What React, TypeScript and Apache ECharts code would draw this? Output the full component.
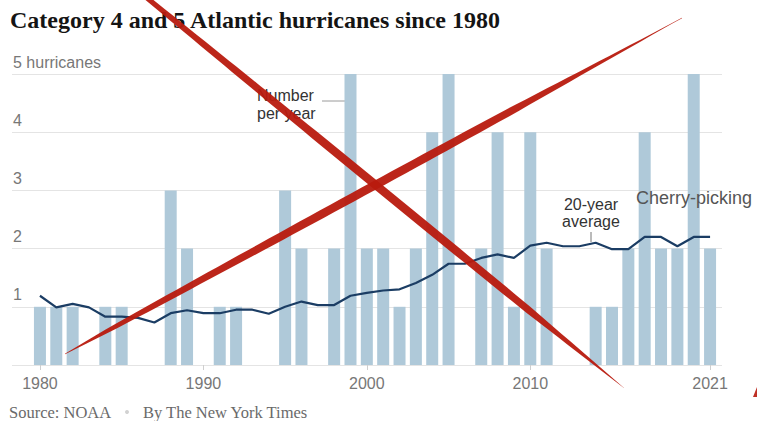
import React, { useEffect, useRef } from "react";
import * as echarts from "echarts";

// Category 4 and 5 Atlantic hurricanes per year, with the trailing 20-year average
const years = [
  1980, 1981, 1982, 1983, 1984, 1985, 1986, 1987, 1988, 1989,
  1990, 1991, 1992, 1993, 1994, 1995, 1996, 1997, 1998, 1999,
  2000, 2001, 2002, 2003, 2004, 2005, 2006, 2007, 2008, 2009,
  2010, 2011, 2012, 2013, 2014, 2015, 2016, 2017, 2018, 2019,
  2020, 2021,
];
const hurricanes = [
  1, 1, 1, 0, 1, 1, 0, 0, 3, 2,
  0, 1, 1, 0, 0, 3, 2, 0, 2, 5,
  2, 2, 1, 2, 4, 5, 0, 2, 4, 1,
  4, 2, 0, 0, 1, 1, 2, 4, 2, 2,
  5, 2,
];
const average20 = [
  1.19, 0.99, 1.05, 0.99, 0.83, 0.83, 0.81, 0.73, 0.89, 0.94,
  0.89, 0.89, 0.95, 0.95, 0.88, 1.0, 1.09, 1.03, 1.03, 1.19,
  1.24, 1.28, 1.3, 1.41, 1.55, 1.74, 1.74, 1.84, 1.9, 1.84,
  2.05, 2.1, 2.04, 2.04, 2.1, 1.99, 1.99, 2.2, 2.2, 2.04,
  2.2, 2.2,
];
const yearLabels = [1980, 1990, 2000, 2010, 2021];
const yTicks = [0, 1, 2, 3, 4, 5];

const SANS = "'Liberation Sans', Arial, Helvetica, sans-serif";
const SERIF = "'Liberation Serif', 'Times New Roman', serif";
const RED = "#b81a0e";

// Builds a brush-like tapered stroke between two points as a polygon outline
function taperedStroke(
  x1: number, y1: number, x2: number, y2: number,
  wStart: number, wMax: number, head: number, tail: number
): number[][] {
  const n = 60;
  const dx = x2 - x1;
  const dy = y2 - y1;
  const len = Math.hypot(dx, dy);
  const nx = -dy / len;
  const ny = dx / len;
  const left: number[][] = [];
  const right: number[][] = [];
  for (let i = 0; i <= n; i++) {
    const t = i / n;
    let w = wStart + (wMax - wStart) * Math.sin(Math.PI * t);
    if (head > 0) w *= Math.pow(Math.min(1, t / head), 0.7);
    if (tail > 0) w *= Math.pow(Math.min(1, (1 - t) / tail), 0.7);
    const hw = Math.max(w, 0.3) / 2;
    const px = x1 + dx * t;
    const py = y1 + dy * t;
    left.push([px + nx * hw, py + ny * hw]);
    right.push([px - nx * hw, py - ny * hw]);
  }
  return left.concat(right.reverse());
}

export default function App() {
  const ref = useRef<HTMLDivElement>(null);

  useEffect(() => {
    if (!ref.current) return;
    const chart = echarts.init(ref.current, null, { renderer: "svg" });

    const barData = years.map((y, i) => [y, hurricanes[i]]);
    const lineData = years.map((y, i) => [y, average20[i]]);

    chart.setOption({
      animation: false,
      backgroundColor: "#ffffff",
      grid: {
        left: 12,
        right: 35,
        top: 74,
        bottom: 56,
        containLabel: false,
        outerBoundsMode: "none",
      },
      xAxis: {
        type: "value",
        min: 1978.29,
        max: 2021.73,
        axisLine: { show: false },
        splitLine: { show: false },
        axisTick: {
          show: true,
          customValues: yearLabels,
          length: 5,
          lineStyle: { color: "#cfcfcf", width: 1 },
        },
        axisLabel: {
          customValues: yearLabels,
          formatter: (v: number) => String(v),
          color: "#777777",
          fontSize: 16,
          fontFamily: SANS,
          margin: 10,
        },
      },
      yAxis: {
        type: "value",
        min: 0,
        max: 5,
        interval: 1,
        axisLine: { show: false },
        axisTick: { show: false },
        splitLine: { show: true, lineStyle: { color: "#e4e4e4", width: 1 } },
        axisLabel: {
          inside: true,
          margin: 1,
          verticalAlign: "bottom",
          padding: [0, 0, 4, 0],
          color: "#777777",
          fontSize: 16,
          fontFamily: SANS,
          formatter: (v: number) =>
            v === 0 ? "" : v === yTicks[yTicks.length - 1] ? `${v} hurricanes` : String(v),
        },
      },
      series: [
        {
          type: "bar",
          data: barData,
          barWidth: 12,
          itemStyle: { color: "#afc9d9" },
          z: 2,
        },
        {
          type: "line",
          data: lineData,
          showSymbol: false,
          symbol: "none",
          lineStyle: { color: "#1b3d64", width: 2.2 },
          z: 3,
        },
      ],
      graphic: [
        {
          type: "text",
          left: 10,
          top: 8,
          style: {
            text: "Category 4 and 5 Atlantic hurricanes since 1980",
            font: `bold 24px ${SERIF}`,
            fill: "#141414",
          },
        },
        {
          type: "text",
          x: 257,
          y: 86,
          style: {
            text: "Number\nper year",
            font: `16px ${SANS}`,
            lineHeight: 18,
            fill: "#333333",
            align: "left",
            verticalAlign: "top",
          },
        },
        {
          type: "line",
          shape: { x1: 322, y1: 101, x2: 345, y2: 101 },
          style: { stroke: "#9a9a9a", lineWidth: 1 },
        },
        {
          type: "text",
          x: 591,
          y: 196,
          style: {
            text: "20-year\naverage",
            font: `16px ${SANS}`,
            lineHeight: 17,
            fill: "#333333",
            align: "center",
            verticalAlign: "top",
          },
        },
        {
          type: "line",
          shape: { x1: 591, y1: 232, x2: 591, y2: 242 },
          style: { stroke: "#777777", lineWidth: 1 },
        },
        {
          type: "text",
          x: 636,
          y: 198,
          z: 10,
          style: {
            text: "Cherry-picking",
            font: `18px ${SANS}`,
            fill: "#555555",
            align: "left",
            verticalAlign: "middle",
          },
        },
        {
          type: "text",
          x: 9,
          y: 412,
          style: {
            text: "Source: NOAA",
            font: `16.5px ${SERIF}`,
            fill: "#6a6a6a",
            align: "left",
            verticalAlign: "middle",
          },
        },
        {
          type: "circle",
          shape: { cx: 127, cy: 412, r: 2 },
          style: { fill: "#d2d2d2" },
        },
        {
          type: "text",
          x: 143,
          y: 412,
          style: {
            text: "By The New York Times",
            font: `16.5px ${SERIF}`,
            fill: "#6a6a6a",
            align: "left",
            verticalAlign: "middle",
          },
        },
        {
          type: "polygon",
          z: 100,
          shape: { points: taperedStroke(147, -2, 624, 388, 5, 8.5, 0, 0.2) },
          style: { fill: RED, opacity: 0.95 },
        },
        {
          type: "polygon",
          z: 100,
          shape: { points: taperedStroke(65, 354, 682, 18, 3.5, 8.5, 0.08, 0.28) },
          style: { fill: RED, opacity: 0.95 },
        },
        {
          type: "polygon",
          z: 100,
          shape: { points: [[757, 387], [757, 397], [753, 397]] },
          style: { fill: RED, opacity: 0.9 },
        },
      ],
    });

    return () => chart.dispose();
  }, []);

  return (
    <div
      ref={ref}
      style={{ position: "absolute", left: 0, top: 0, width: 757, height: 421 }}
    />
  );
}
